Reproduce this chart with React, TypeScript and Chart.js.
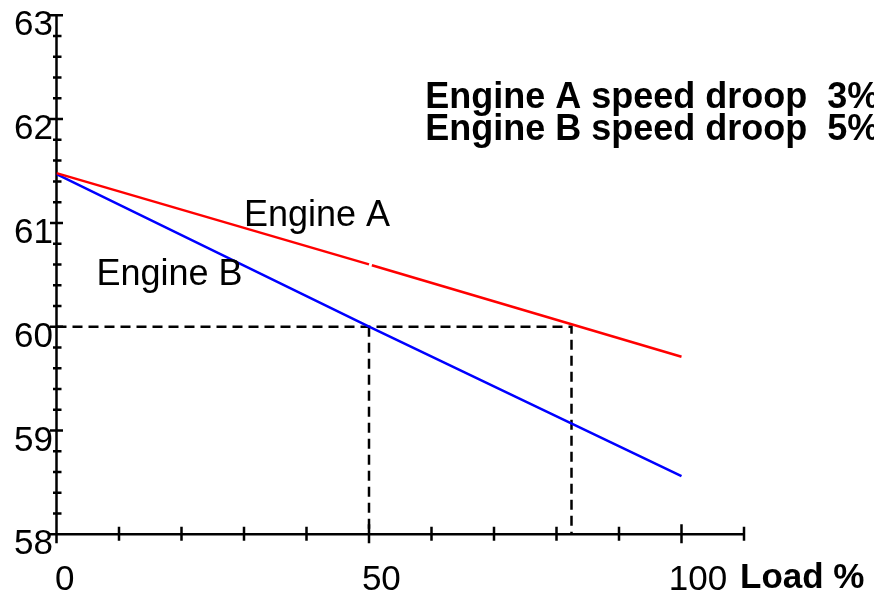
import React, { useEffect, useRef } from "react";
import { Chart, registerables } from "chart.js";

Chart.register(...registerables);

// ---- data ----
const loadPoints = [0, 50, 100];
const engineASpeed = [61.48, 60.6, 59.71];
const engineBSpeed = [61.47, 60.0, 58.56];

// reference (dashed) construction lines at 60 Hz
const refAX = [0, 82.4, 82.4];
const refAY = [60, 60, 58];
const refBX = [50, 50];
const refBY = [60, 58];

// axes
const xMin = 0;
const xMax = 110;
const yMin = 58;
const yMax = 63;
const xTicks = [0, 10, 20, 30, 40, 50, 60, 70, 80, 90, 100, 110];
const xLabels = [0, 50, 100];
const yLabels = [58, 59, 60, 61, 62, 63];
const yMinorStep = 0.2;
const xTitle = "Load %";

// annotations
const titleLines = ["Engine A speed droop  3%", "Engine B speed droop  5%"];
const titleAnchor = [
  { x: 59, y: 62.11 },
  { x: 59, y: 61.8 },
];
const seriesLabels = [
  { text: "Engine A", x: 30, y: 60.97 },
  { text: "Engine B", x: 6.4, y: 60.4 },
];

const FONT = '"Liberation Sans", Arial, Helvetica, sans-serif';

const zip = (xs: number[], ys: number[]) => xs.map((v, i) => ({ x: v, y: ys[i] }));

const axesPlugin = {
  id: "droopAxes",
  beforeDatasetsDraw(chart: any) {
    const { ctx } = chart;
    const xs = chart.scales.x;
    const ys = chart.scales.y;
    const x0 = xs.getPixelForValue(xMin);
    const x1 = xs.getPixelForValue(xMax);
    const y0 = ys.getPixelForValue(yMin);
    const y1 = ys.getPixelForValue(yMax);
    ctx.save();
    ctx.strokeStyle = "#000";
    ctx.lineWidth = 2.5;
    ctx.lineCap = "butt";
    ctx.beginPath();
    ctx.moveTo(x0, y0);
    ctx.lineTo(x1, y0);
    ctx.moveTo(x0, y0);
    ctx.lineTo(x0, y1);
    // x ticks
    xTicks.forEach((v) => {
      const px = xs.getPixelForValue(v);
      const major = xLabels.includes(v);
      ctx.moveTo(px, y0 - (major ? 10 : 7.5));
      ctx.lineTo(px, y0 + (major ? 9 : 6.5));
    });
    // y ticks
    const n = Math.round((yMax - yMin) / yMinorStep);
    for (let i = 0; i <= n; i++) {
      const v = yMin + i * yMinorStep;
      const py = ys.getPixelForValue(v);
      const major = Math.abs(v - Math.round(v)) < 1e-6;
      ctx.moveTo(x0 - (major ? 6.5 : 3.5), py);
      ctx.lineTo(x0 + (major ? 6.5 : 5), py);
    }
    ctx.stroke();

    // tick labels
    ctx.fillStyle = "#000";
    ctx.font = `35px ${FONT}`;
    ctx.textBaseline = "alphabetic";
    ctx.textAlign = "right";
    yLabels.forEach((v) => {
      const py = ys.getPixelForValue(v);
      ctx.fillText(String(v), x0 - 3.5, py + 20);
    });
    ctx.textAlign = "center";
    xLabels.forEach((v) => {
      const px = xs.getPixelForValue(v);
      const w = ctx.measureText(String(v)).width;
      ctx.fillText(String(v), px + 4 + 0.215 * w, y0 + 56);
    });
    ctx.textAlign = "left";
    ctx.font = `bold 35px ${FONT}`;
    ctx.fillText(xTitle, x1 - 4, y0 + 54);
    ctx.restore();
  },
  afterDraw(chart: any) {
    const { ctx } = chart;
    const xs = chart.scales.x;
    const ys = chart.scales.y;
    ctx.save();
    ctx.fillStyle = "#000";
    ctx.textAlign = "left";
    ctx.textBaseline = "alphabetic";
    ctx.font = `bold 36px ${FONT}`;
    titleLines.forEach((t, i) => {
      ctx.fillText(t, xs.getPixelForValue(titleAnchor[i].x), ys.getPixelForValue(titleAnchor[i].y));
    });
    ctx.font = `36px ${FONT}`;
    seriesLabels.forEach((s) => {
      ctx.fillText(s.text, xs.getPixelForValue(s.x), ys.getPixelForValue(s.y));
    });
    ctx.restore();
  },
};

export default function App() {
  const ref = useRef<HTMLCanvasElement | null>(null);

  useEffect(() => {
    if (!ref.current) return;
    const chart = new Chart(ref.current, {
      type: "scatter",
      data: {
        datasets: [
          {
            label: "Engine A",
            data: zip(loadPoints, engineASpeed),
            showLine: true,
            borderColor: "#ff0000",
            borderWidth: 2.5,
            pointRadius: 0,
            segment: {
              borderDash: (c: any) => (c.p0DataIndex === 1 ? [0, 3, 3000, 0] : undefined),
            },
          } as any,
          {
            label: "Engine B",
            data: zip(loadPoints, engineBSpeed),
            showLine: true,
            borderColor: "#0000ff",
            borderWidth: 2.5,
            pointRadius: 0,
          },
          {
            label: "ref A",
            data: zip(refAX, refAY),
            showLine: true,
            borderColor: "#000",
            borderWidth: 2.5,
            borderDash: [10, 6],
            pointRadius: 0,
          },
          {
            label: "ref B",
            data: zip(refBX, refBY),
            showLine: true,
            borderColor: "#000",
            borderWidth: 2.5,
            borderDash: [10, 6],
            pointRadius: 0,
          },
        ],
      },
      options: {
        animation: false,
        responsive: true,
        maintainAspectRatio: false,
        events: [],
        layout: { padding: { left: 56.5, right: 130, top: 15.3, bottom: 60.7 } },
        plugins: { legend: { display: false }, tooltip: { enabled: false }, title: { display: false } },
        scales: {
          x: { type: "linear", min: xMin, max: xMax, display: false },
          y: { type: "linear", min: yMin, max: yMax, display: false },
        },
      },
      plugins: [axesPlugin],
    });
    return () => chart.destroy();
  }, []);

  return (
    <div style={{ position: "absolute", left: 0, top: 0, width: 874, height: 595, background: "#fff" }}>
      <canvas ref={ref} />
    </div>
  );
}
